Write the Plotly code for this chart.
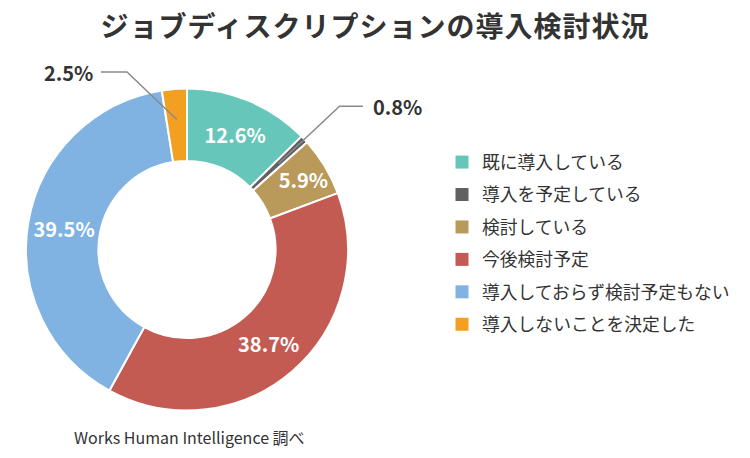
import math
import plotly.graph_objects as go

labels = ["既に導入している", "導入を予定している", "検討している", "今後検討予定",
          "導入しておらず検討予定もない", "導入しないことを決定した"]
values = [12.6, 0.8, 5.9, 38.7, 39.5, 2.5]
colors = ["#67C6BA", "#616161", "#BA9A5B", "#C45B53", "#80B3E2", "#F29F22"]
outside = [False, True, False, False, False, True]

FONT = "Noto Sans CJK JP"
W, H = 750, 458
cx, cy, R = 187, 249.5, 161  # pie centre / radius in pixels


def px(x):
    return x / W


def py(y):
    return 1 - y / H


fig = go.Figure()

fig.add_trace(go.Pie(
    labels=labels,
    values=values,
    sort=False,
    direction="clockwise",
    rotation=0,
    hole=0.55,
    marker=dict(colors=colors, line=dict(color="white", width=2)),
    text=["" if o else f"{v}%" for v, o in zip(values, outside)],
    textinfo="text",
    textposition="inside",
    insidetextorientation="horizontal",
    textfont=dict(color="white", size=20, family=FONT, weight="bold"),
    showlegend=False,
    domain=dict(x=[px(cx - R), px(cx + R)], y=[py(cy + R), py(cy - R)]),
    hoverinfo="label+value",
))

# legend entries (separate so the row spacing can be set)
for lab, c in zip(labels, colors):
    fig.add_trace(go.Scatter(
        x=[None], y=[None], mode="markers", name=lab, legendgroup=lab,
        marker=dict(symbol="square", size=13, color=c),
        hoverinfo="skip",
    ))

# leader lines for the small slices
leader = {1: dict(r0=0.78, elbow=1.30, end=363, side="left"),
          5: dict(r0=0.81, elbow=None, end=101, side="right")}
elbow_pts = {5: (127, 72)}

shapes = []
annotations = []
cum = 0
for i, v in enumerate(values):
    mid = (cum + v / 2) / 100 * 2 * math.pi
    cum += v
    if not outside[i]:
        continue
    cfg = leader[i]
    x0 = cx + cfg["r0"] * R * math.sin(mid)
    y0 = cy - cfg["r0"] * R * math.cos(mid)
    if cfg["elbow"]:
        x1 = cx + cfg["elbow"] * R * math.sin(mid)
        y1 = cy - cfg["elbow"] * R * math.cos(mid)
    else:
        x1, y1 = elbow_pts[i]
    x2 = cfg["end"]
    shapes.append(dict(
        type="path", xref="paper", yref="paper",
        path=f"M{px(x0)},{py(y0)} L{px(x1)},{py(y1)} L{px(x2)},{py(y1)}",
        line=dict(color="#8a8a8a", width=1.5),
    ))
    if cfg["side"] == "left":
        tx, anchor = x2 + 8, "left"
    else:
        tx, anchor = x2 - 6, "right"
    annotations.append(dict(
        x=px(tx), y=py(y1), xref="paper", yref="paper",
        text=f"{v}%", showarrow=False, xanchor=anchor, yanchor="middle",
        font=dict(size=20, color="#333333", family=FONT, weight="bold"),
    ))

annotations.append(dict(
    x=px(72), y=py(437), xref="paper", yref="paper",
    text="Works Human Intelligence 調べ", showarrow=False,
    xanchor="left", yanchor="middle",
    font=dict(size=16, color="#333333", family=FONT),
))

fig.update_layout(
    width=W,
    height=H,
    margin=dict(l=0, r=0, t=0, b=0),
    paper_bgcolor="white",
    plot_bgcolor="white",
    title=dict(
        text="<span style='letter-spacing:1px'>ジョブディスクリプションの導入検討状況</span>",
        x=0.5, xanchor="center", y=py(27), yanchor="middle",
        font=dict(size=28, color="#333333", family=FONT, weight="bold"),
    ),
    xaxis=dict(visible=False),
    yaxis=dict(visible=False),
    legend=dict(
        x=px(442), xanchor="left", y=py(144), yanchor="top",
        font=dict(size=17.8, color="#333333", family=FONT),
        tracegroupgap=6.3,
        bgcolor="rgba(0,0,0,0)",
    ),
    shapes=shapes,
    annotations=annotations,
    uniformtext=dict(minsize=20, mode="show"),
)

fig.write_html("out.html", config={"displayModeBar": False},
               post_script="document.body.style.margin='0';")
